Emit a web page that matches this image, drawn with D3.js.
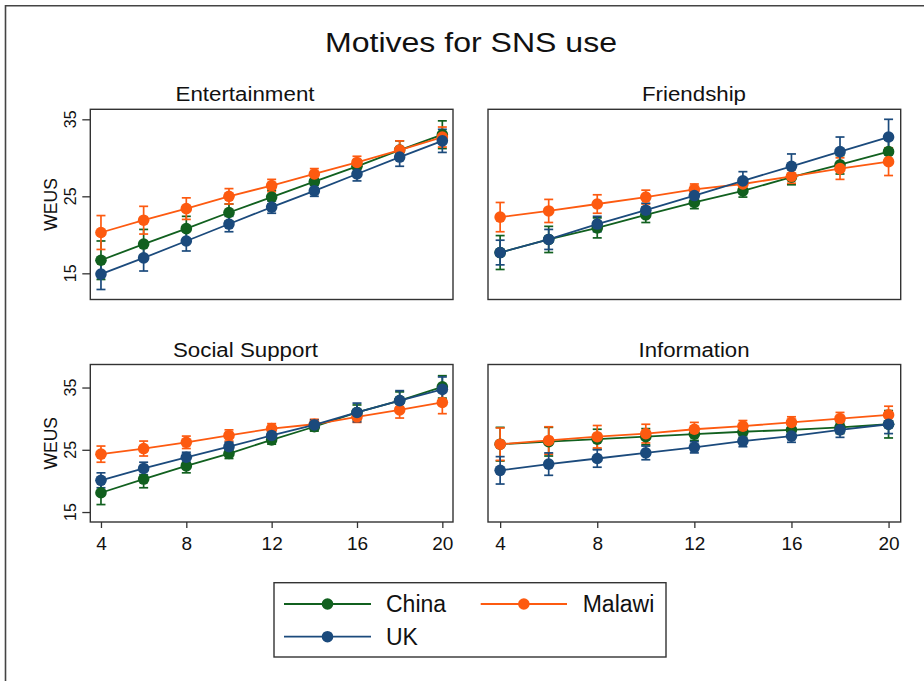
<!DOCTYPE html>
<html><head><meta charset="utf-8">
<script src="https://cdn.jsdelivr.net/npm/d3@7"></script>
<style>body{margin:0;background:#fff}svg{display:block}text{font-family:"Liberation Sans",Arial,sans-serif;fill:#111}</style>
</head><body>
<svg id="c" width="924" height="681"></svg>
<script>
const ages = [4, 6, 8, 10, 12, 14, 16, 18, 20];
const countries = ["China", "Malawi", "UK"];
const panelTitles = ["Entertainment", "Friendship", "Social Support", "Information"];
const xTicks = [4, 8, 12, 16, 20];
const yTicks = [15, 25, 35];

const entChina   = [16.7, 18.8, 20.8, 22.9, 24.9, 26.9, 28.9, 31.0, 33.0];
const entChinaCI = [2.5, 1.9, 1.6, 1.1, 0.9, 0.8, 0.8, 1.2, 1.8];
const entMalawi  = [20.3, 21.9, 23.4, 25.0, 26.4, 27.9, 29.4, 31.0, 32.7];
const entMalawiCI= [2.2, 1.8, 1.4, 1.0, 0.8, 0.7, 0.8, 1.2, 1.3];
const entUK      = [14.9, 17.0, 19.2, 21.4, 23.6, 25.7, 27.9, 30.1, 32.2];
const entUKCI    = [2.0, 1.7, 1.3, 1.0, 0.8, 0.7, 0.9, 1.2, 1.5];

const friChina   = [17.7, 19.4, 20.9, 22.6, 24.2, 25.7, 27.5, 29.1, 30.8];
const friChinaCI = [2.2, 1.7, 1.3, 1.0, 0.8, 0.8, 1.0, 1.2, 1.5];
const friMalawi  = [22.3, 23.1, 24.0, 24.9, 25.9, 26.6, 27.6, 28.6, 29.5];
const friMalawiCI= [1.9, 1.5, 1.2, 0.9, 0.7, 0.7, 0.9, 1.4, 1.8];
const friUK      = [17.7, 19.4, 21.4, 23.2, 25.1, 27.0, 28.9, 30.8, 32.7];
const friUKCI    = [1.6, 1.3, 1.0, 0.9, 0.8, 1.2, 1.6, 1.9, 2.3];

const socChina   = [18.1, 20.3, 22.4, 24.4, 26.6, 28.7, 31.0, 32.9, 35.1];
const socChinaCI = [1.9, 1.4, 1.1, 0.8, 0.7, 0.7, 1.2, 1.4, 1.8];
const socMalawi  = [24.3, 25.2, 26.2, 27.3, 28.4, 29.1, 30.3, 31.4, 32.6];
const socMalawiCI= [1.3, 1.2, 1.0, 0.9, 0.8, 0.8, 0.9, 1.3, 1.8];
const socUK      = [20.1, 22.0, 23.8, 25.5, 27.3, 29.0, 31.0, 32.9, 34.7];
const socUKCI    = [1.2, 1.0, 0.8, 0.7, 0.7, 0.8, 1.5, 1.6, 2.0];

const infChina   = [25.9, 26.3, 26.7, 27.1, 27.5, 27.9, 28.2, 28.6, 29.1];
const infChinaCI = [2.7, 2.3, 1.6, 1.3, 1.0, 0.9, 0.9, 1.0, 2.2];
const infMalawi  = [25.9, 26.5, 27.1, 27.6, 28.3, 28.8, 29.4, 30.0, 30.6];
const infMalawiCI= [2.6, 2.2, 1.8, 1.5, 1.1, 0.9, 0.9, 1.0, 1.4];
const infUK      = [21.7, 22.7, 23.6, 24.5, 25.4, 26.4, 27.2, 28.2, 29.1];
const infUKCI    = [2.2, 1.8, 1.4, 1.1, 0.9, 0.9, 1.0, 1.2, 1.5];

const panelData = [
  [[entChina, entChinaCI], [entMalawi, entMalawiCI], [entUK, entUKCI]],
  [[friChina, friChinaCI], [friMalawi, friMalawiCI], [friUK, friUKCI]],
  [[socChina, socChinaCI], [socMalawi, socMalawiCI], [socUK, socUKCI]],
  [[infChina, infChinaCI], [infMalawi, infMalawiCI], [infUK, infUKCI]]
];

const colors = {China: "#11601f", Malawi: "#fd5a10", UK: "#1b4a7c"};
const axisColor = "#333";

const layout = [
  {x0: 90.3, x1: 453,   y0: 109.3, y1: 299.5, ydom: [11.6, 36.3], yaxis: true,  xaxis: false, tx: 245,   ty: 100.7, tl: 139},
  {x0: 488,  x1: 900.7, y0: 109.3, y1: 299.5, ydom: [11.6, 36.3], yaxis: false, xaxis: false, tx: 694,   ty: 100.7, tl: 104},
  {x0: 90.3, x1: 453,   y0: 364.5, y1: 522,   ydom: [13.4, 38.7], yaxis: true,  xaxis: true,  tx: 245.5, ty: 356.7, tl: 145},
  {x0: 488,  x1: 900.7, y0: 364.5, y1: 522,   ydom: [13.4, 38.7], yaxis: false, xaxis: true,  tx: 694,   ty: 356.7, tl: 111}
];

const svg = d3.select("#c");
svg.append("rect").attr("width", 924).attr("height", 681).attr("fill", "#fff");
svg.append("path").attr("d", "M5.5,700 V5.7 H930").attr("fill", "none").attr("stroke", "#444").attr("stroke-width", 1.6);

svg.append("text").attr("x", 471).attr("y", 51.7).attr("text-anchor", "middle")
  .attr("font-size", 27.5).attr("textLength", 292).attr("lengthAdjust", "spacingAndGlyphs")
  .text("Motives for SNS use");

layout.forEach((L, pi) => {
  const x = d3.scaleLinear().domain([3.5, 20.5]).range([L.x0, L.x1]);
  const y = d3.scaleLinear().domain(L.ydom).range([L.y1, L.y0]);
  const g = svg.append("g");

  g.append("text").attr("x", L.tx).attr("y", L.ty).attr("text-anchor", "middle")
    .attr("font-size", 20).attr("textLength", L.tl).attr("lengthAdjust", "spacingAndGlyphs")
    .text(panelTitles[pi]);

  if (L.yaxis) {
    const ya = g.append("g").attr("transform", `translate(${L.x0},0)`)
      .call(d3.axisLeft(y).tickValues(yTicks).tickSize(8).tickPadding(3).tickFormat(d3.format("d")));
    ya.select(".domain").remove();
    ya.selectAll("line").attr("stroke", axisColor).attr("stroke-width", 1.3);
    ya.selectAll("text").remove();
    yTicks.forEach(t => {
      g.append("text").attr("transform", `translate(75.5,${y(t)}) rotate(-90)`)
        .attr("text-anchor", "middle").attr("font-size", 16).text(t);
    });
    g.append("text").attr("transform", `translate(57,${(L.y0 + L.y1) / 2}) rotate(-90)`)
      .attr("text-anchor", "middle").attr("font-size", 17.5).text("WEUS");
  }
  if (L.xaxis) {
    const xa = g.append("g").attr("transform", `translate(0,${L.y1})`)
      .call(d3.axisBottom(x).tickValues(xTicks).tickSize(6).tickFormat(d3.format("d")));
    xa.select(".domain").remove();
    xa.selectAll("line").attr("stroke", axisColor).attr("stroke-width", 1.3);
    xa.selectAll("text").attr("font-size", 19).attr("fill", "#111")
      .attr("font-family", '"Liberation Sans",Arial,sans-serif').attr("dy", null).attr("y", 28);
  }

  const series = panelData[pi];
  series.forEach((s, ci) => {
    const col = colors[countries[ci]];
    const [m, e] = s;
    ages.forEach((a, i) => {
      const cx = x(a), lo = y(m[i] - e[i]), hi = y(m[i] + e[i]);
      g.append("line").attr("x1", cx).attr("x2", cx).attr("y1", lo).attr("y2", hi)
        .attr("stroke", col).attr("stroke-width", 1.7);
      [lo, hi].forEach(yy => g.append("line").attr("x1", cx - 4.5).attr("x2", cx + 4.5)
        .attr("y1", yy).attr("y2", yy).attr("stroke", col).attr("stroke-width", 1.7));
    });
  });
  series.forEach((s, ci) => {
    const col = colors[countries[ci]];
    const [m] = s;
    const line = d3.line().x((d, i) => x(ages[i])).y(d => y(d));
    g.append("path").attr("d", line(m)).attr("fill", "none").attr("stroke", col).attr("stroke-width", 1.8);
    g.selectAll(null).data(m).enter().append("circle")
      .attr("cx", (d, i) => x(ages[i])).attr("cy", d => y(d)).attr("r", 5.8).attr("fill", col);
  });

  g.append("rect").attr("x", L.x0).attr("y", L.y0).attr("width", L.x1 - L.x0).attr("height", L.y1 - L.y0)
    .attr("fill", "none").attr("stroke", axisColor).attr("stroke-width", 1.4);
});

const lg = svg.append("g");
lg.append("rect").attr("x", 274).attr("y", 582.7).attr("width", 392).attr("height", 74.3)
  .attr("fill", "none").attr("stroke", axisColor).attr("stroke-width", 1.4);
const legendPos = [
  {c: "China", x0: 284, x1: 371, tx: 386, y: 604},
  {c: "Malawi", x0: 480.7, x1: 567, tx: 582.7, y: 604},
  {c: "UK", x0: 284, x1: 371, tx: 386, y: 636.7}
];
legendPos.forEach(p => {
  const col = colors[p.c];
  lg.append("line").attr("x1", p.x0).attr("x2", p.x1).attr("y1", p.y).attr("y2", p.y)
    .attr("stroke", col).attr("stroke-width", 1.8);
  lg.append("circle").attr("cx", (p.x0 + p.x1) / 2).attr("cy", p.y).attr("r", 5.8).attr("fill", col);
  lg.append("text").attr("x", p.tx).attr("y", p.y + 8).attr("font-size", 23).text(p.c);
});
</script>
</body></html>
